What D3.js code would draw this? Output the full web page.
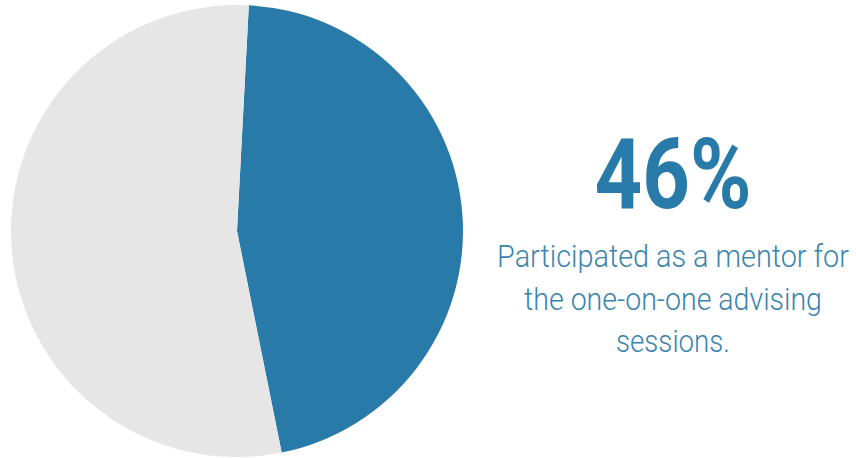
<!DOCTYPE html>
<html>
<head>
<meta charset="utf-8">
<script src="https://cdn.jsdelivr.net/npm/d3@7"></script>
<style>
  body { margin: 0; background: #fff; }
  svg { display: block; }
</style>
</head>
<body>
<div id="container"></div>
<script>
// pie data
var categories = ["Mentor", "Other"];
var values = [46, 54];
var colors = ["#287ba8", "#e6e6e6"];

// text
var bigLabel = "46%";
var captionLines = ["Participated as a mentor for", "the one-on-one advising", "sessions."];
var captionWidths = [352, 298, 114]; // measured widths in the reference

var width = 856, height = 458;
var cx = 237, cy = 231, radius = 226;
var startOffset = 3 * Math.PI / 180;

var svg = d3.select("#container").append("svg")
	.attr("width", width)
	.attr("height", height);

var pie = d3.pie()
	.sort(null)
	.startAngle(startOffset)
	.endAngle(startOffset + 2 * Math.PI)
	.value(function(d) { return d; });

var arc = d3.arc().innerRadius(0).outerRadius(radius);

svg.append("g")
	.attr("transform", "translate(" + cx + "," + cy + ")")
	.selectAll("path")
	.data(pie(values)).enter()
	.append("path")
		.attr("d", arc)
		.style("fill", function(d, i) { return colors[i]; });

// squeeze a text horizontally to a wanted width (fonts here are not condensed)
function squeeze(sel, x, y, target) {
	var w = sel.node().getComputedTextLength();
	var sx = Math.min(1, target / w);
	sel.attr("transform", "translate(" + x + "," + y + ") scale(" + sx + ",1)");
}

// big number
var big = svg.append("text")
	.style("text-anchor", "middle")
	.style("font-family", "Roboto, 'Liberation Sans', sans-serif")
	.style("font-weight", "bold")
	.style("font-size", "99px")
	.style("fill", "#287ba8")
	.text(bigLabel);
squeeze(big, 673, 208, 157);

// caption
captionLines.forEach(function(line, i) {
	var t = svg.append("text")
		.attr("class", "caption")
		.style("text-anchor", "middle")
		.style("font-family", "Roboto, sans-serif")
		.style("font-weight", 300)
		.style("font-size", "31px")
		.style("fill", "#3a84b0")
		.text(line);
	squeeze(t, 673, 267 + i * 42.5, captionWidths[i]);
});
</script>
</body>
</html>
